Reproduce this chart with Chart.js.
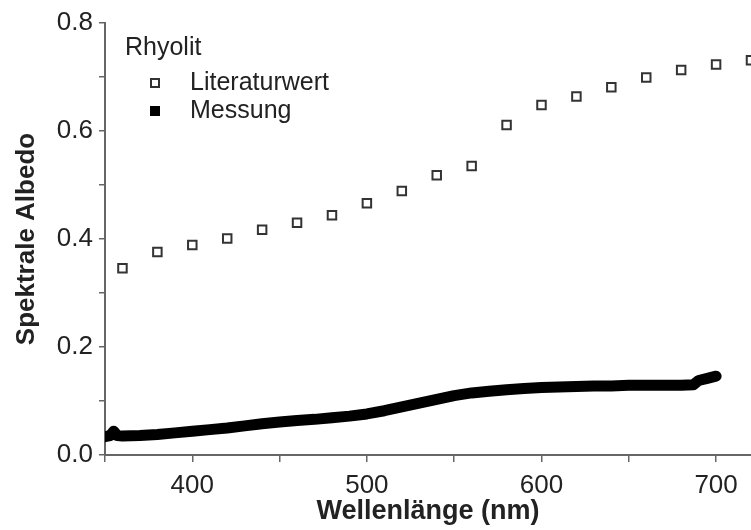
<!DOCTYPE html>
<html>
<head>
<meta charset="utf-8">
<script src="https://cdn.jsdelivr.net/npm/chart.js@4"></script>
<style>
  html, body { margin: 0; padding: 0; background: #fff; }
  #box { width: 751px; height: 530px; }
</style>
</head>
<body>
<div id="box"><canvas id="myChart"></canvas></div>
<script>
// datos
var legendTitle = 'Rhyolit';
var litLabel = 'Literaturwert';
var litX = [360, 380, 400, 420, 440, 460, 480, 500, 520, 540, 560, 580, 600, 620, 640, 660, 680, 700, 720];
var litY = [0.346, 0.376, 0.389, 0.401, 0.417, 0.430, 0.444, 0.466, 0.489, 0.518, 0.535, 0.611, 0.648, 0.664, 0.681, 0.699, 0.713, 0.723, 0.731];

var mesLabel = 'Messung';
var mesX = [350, 353, 355, 357, 360, 370, 380, 390, 400, 410, 420, 430, 440, 450, 460, 470, 480, 490, 500,
            510, 520, 530, 540, 550, 560, 570, 580, 590, 600, 610, 620, 630, 640, 650, 660, 670, 680, 687, 690, 695, 700];
var mesY = [0.034, 0.036, 0.044, 0.036, 0.035, 0.036, 0.038, 0.041, 0.044, 0.047, 0.050, 0.054, 0.058, 0.061, 0.064, 0.066, 0.069, 0.072, 0.076,
            0.082, 0.089, 0.096, 0.103, 0.110, 0.115, 0.118, 0.121, 0.123, 0.125, 0.126, 0.127, 0.128, 0.128, 0.129, 0.129, 0.129, 0.129, 0.130, 0.138, 0.142, 0.146];

var xLabels = [400, 500, 600, 700];
var yLabels = [0.0, 0.2, 0.4, 0.6, 0.8];
var xTitle = 'Wellenlänge (nm)';
var yTitle = 'Spektrale Albedo';

function toPoints(xs, ys) {
    var pts = [];
    for (var i = 0; i < xs.length; i++) pts.push({x: xs[i], y: ys[i]});
    return pts;
}

var textColor = '#222';
var axisColor = '#666';

// leyenda dibujada dentro del area
var legendPlugin = {
    id: 'innerLegend',
    afterDraw: function(chart) {
        var c = chart.ctx;
        c.save();
        c.fillStyle = textColor;
        c.textBaseline = 'middle';
        c.textAlign = 'left';
        c.font = '25px "Liberation Sans", Arial, sans-serif';
        c.fillText(legendTitle, 125, 48);
        c.fillText(litLabel, 190, 83);
        c.fillText(mesLabel, 190, 111);
        // marcadores
        c.lineWidth = 2;
        c.strokeStyle = '#333';
        c.fillStyle = '#fff';
        c.fillRect(151, 79, 8, 8);
        c.strokeRect(151, 79, 8, 8);
        c.fillStyle = '#000';
        c.fillRect(150, 106, 10, 10);
        c.restore();
    }
};

var ctx = document.getElementById('myChart').getContext('2d');
var myChart = new Chart(ctx, {
    type: 'scatter',
    data: {
        datasets: [{
            label: mesLabel,
            data: toPoints(mesX, mesY),
            showLine: true,
            borderColor: '#000',
            borderWidth: 11,
            borderCapStyle: 'round',
            borderJoinStyle: 'round',
            pointRadius: 0,
            tension: 0
        }, {
            label: litLabel,
            data: toPoints(litX, litY),
            showLine: false,
            pointStyle: 'rect',
            pointRadius: 6,
            pointBorderWidth: 2,
            pointBorderColor: '#333',
            pointBackgroundColor: '#fff'
        }]
    },
    options: {
        responsive: true,
        maintainAspectRatio: false,
        animation: false,
        layout: { autoPadding: false, padding: { top: 23, right: 0, left: 0, bottom: 0 } },
        plugins: {
            legend: { display: false },
            tooltip: { enabled: false }
        },
        scales: {
            x: {
                type: 'linear',
                min: 350,
                max: 720,
                border: { display: true, color: axisColor, width: 2 },
                grid: { drawOnChartArea: false, drawTicks: true, tickLength: 7, color: axisColor, lineWidth: 1.5 },
                ticks: {
                    stepSize: 50,
                    includeBounds: false,
                    autoSkip: false,
                    maxRotation: 0,
                    padding: 8,
                    color: textColor,
                    font: { family: '"Liberation Sans", Arial, sans-serif', size: 26 },
                    callback: function(v) { return xLabels.indexOf(v) >= 0 ? String(v) : ''; }
                },
                title: {
                    display: true,
                    text: xTitle,
                    color: textColor,
                    font: { family: '"Liberation Sans", Arial, sans-serif', size: 27, weight: 'bold' },
                    padding: { top: 0, bottom: 2 }
                },
                afterFit: function(scale) { scale.height = 75; }
            },
            y: {
                type: 'linear',
                min: 0,
                max: 0.8,
                border: { display: true, color: axisColor, width: 2 },
                grid: { drawOnChartArea: false, drawTicks: true, tickLength: 6, color: axisColor, lineWidth: 1.5 },
                ticks: {
                    stepSize: 0.1,
                    autoSkip: false,
                    padding: 6,
                    color: textColor,
                    font: { family: '"Liberation Sans", Arial, sans-serif', size: 26 },
                    callback: function(v) {
                        var r = Math.round(v * 10) / 10;
                        for (var i = 0; i < yLabels.length; i++) {
                            if (Math.abs(yLabels[i] - r) < 1e-6) return r.toFixed(1);
                        }
                        return '';
                    }
                },
                title: {
                    display: true,
                    text: yTitle,
                    color: textColor,
                    font: { family: '"Liberation Sans", Arial, sans-serif', size: 26, weight: 'bold' },
                    padding: { top: 11, bottom: 0 }
                },
                afterFit: function(scale) { scale.width = 105; }
            }
        }
    },
    plugins: [legendPlugin]
});
</script>
</body>
</html>
